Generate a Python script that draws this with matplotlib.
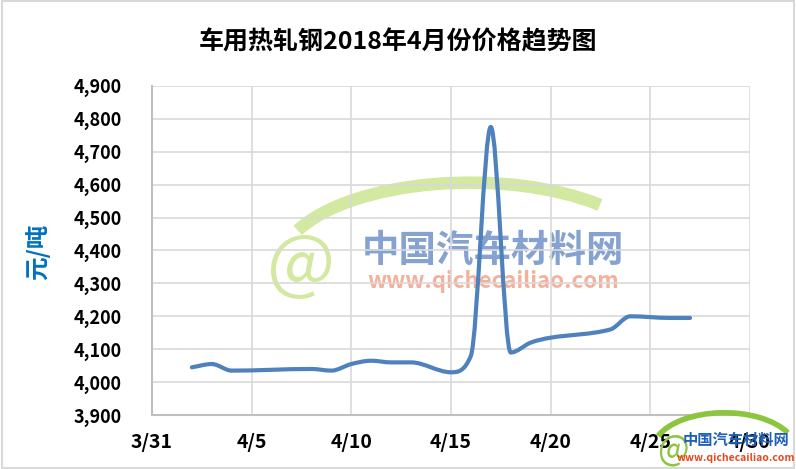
import matplotlib.pyplot as plt
import numpy as np
from matplotlib.path import Path
from matplotlib.patches import PathPatch, Arc, Rectangle
from matplotlib.ticker import FuncFormatter

plt.rcParams['font.family'] = ['Noto Sans CJK SC', 'DejaVu Sans']

# day of April (3/31 = 0)
days = [2, 3, 4, 8, 9, 10, 11, 12, 13, 15, 16, 17, 18, 19, 20, 23, 24, 26, 27]
prices = [4045, 4055, 4035, 4040, 4035, 4055, 4065, 4060, 4060, 4030,
          4080, 4775, 4090, 4120, 4135, 4160, 4200, 4195, 4195]
tick_days = [0, 5, 10, 15, 20, 25, 30]
tick_labels = ["3/31", "4/5", "4/10", "4/15", "4/20", "4/25", "4/30"]

fig = plt.figure(figsize=(7.96, 4.69), dpi=100)
ax = fig.add_axes([0.191, 0.115, 0.751, 0.702])

# smoothed line: cubic bezier through the points, tangents limited (no overshoot)
x = np.array(days, float)
y = np.array(prices, float)
d = np.diff(y) / np.diff(x)
m = np.empty_like(y)
m[0], m[-1] = d[0], d[-1]
for i in range(1, len(y) - 1):
    if d[i - 1] * d[i] <= 0:
        m[i] = 0
    else:
        s = (y[i + 1] - y[i - 1]) / (x[i + 1] - x[i - 1])
        lim = 3 * min(abs(d[i - 1]), abs(d[i]))
        m[i] = np.sign(s) * min(abs(s), lim)
verts = [(x[0], y[0])]
codes = [Path.MOVETO]
for i in range(len(x) - 1):
    h = x[i + 1] - x[i]
    verts += [(x[i] + h / 3, y[i] + m[i] * h / 3),
              (x[i + 1] - h / 3, y[i + 1] - m[i + 1] * h / 3),
              (x[i + 1], y[i + 1])]
    codes += [Path.CURVE4] * 3
line = PathPatch(Path(verts, codes), fill=False, edgecolor="#4F81BD",
                 lw=3, capstyle="round", joinstyle="round", zorder=3)
ax.add_patch(line)

ax.set_xlim(0, 30)
ax.set_ylim(3900, 4900)
ax.set_xticks(tick_days)
ax.set_xticklabels(tick_labels)
ax.set_yticks(np.arange(3900, 4901, 100))
ax.yaxis.set_major_formatter(FuncFormatter(lambda v, p: f"{int(v):,}"))
ax.grid(True, color="#D9D9D9", lw=1.2, zorder=2)
for s in ["top", "right"]:
    ax.spines[s].set_visible(False)
for s in ["left", "bottom"]:
    ax.spines[s].set_color("#BFBFBF")
    ax.spines[s].set_linewidth(1.5)
ax.tick_params(length=0)
ax.tick_params(axis="y", pad=22, labelsize=13)
ax.tick_params(axis="x", pad=13, labelsize=14)
for lb in ax.get_xticklabels() + ax.get_yticklabels():
    lb.set_fontweight("bold")

ax.set_ylabel("元/吨", color="#0070C0", fontsize=17, fontweight="bold")
ax.yaxis.set_label_coords(-0.171, 0.495)
fig.text(0.5, 0.91, "车用热轧钢2018年4月份价格趋势图", ha="center", va="center",
         fontsize=18, fontweight="bold")

# faint watermark (under the grid)
ax.add_patch(Arc((0.532, 0.456), 0.635, 0.5, theta1=40, theta2=160,
                 transform=ax.transAxes, color="#D3E8A0", lw=9, zorder=1))
ax.text(0.25, 0.45, "@", transform=ax.transAxes, fontsize=52, color="#D3E8A0",
        ha="center", va="center", zorder=1)
ax.text(0.57, 0.50, "中国汽车材料网", transform=ax.transAxes, fontsize=27,
        fontweight="bold", color="#86A2D0", ha="center", va="center",
        style="italic", zorder=1)
ax.text(0.57, 0.405, "www.qichecailiao.com", transform=ax.transAxes, fontsize=16,
        fontweight="bold", color="#F5B09C", ha="center", va="center",
        style="italic", zorder=1)

# corner logo
fig.add_artist(Arc((0.91, 0.04), 0.18, 0.16, theta1=25, theta2=160,
                   transform=fig.transFigure, color="#8CC63F", lw=4))
fig.text(0.845, 0.04, "@", fontsize=24, color="#8CC63F", ha="center", va="center")
fig.text(0.925, 0.062, "中国汽车材料网", fontsize=11, fontweight="bold",
         color="#1F5FB8", ha="center", va="center")
fig.text(0.925, 0.023, "www.qichecailiao.com", fontsize=7.5, fontweight="bold",
         color="#E8471E", ha="center", va="center")

fig.patches.append(Rectangle((0.002, 0.003), 0.996, 0.994, transform=fig.transFigure,
                             fill=False, edgecolor="#D9D9D9", lw=1.5))

fig.savefig("out.png", dpi=100)
